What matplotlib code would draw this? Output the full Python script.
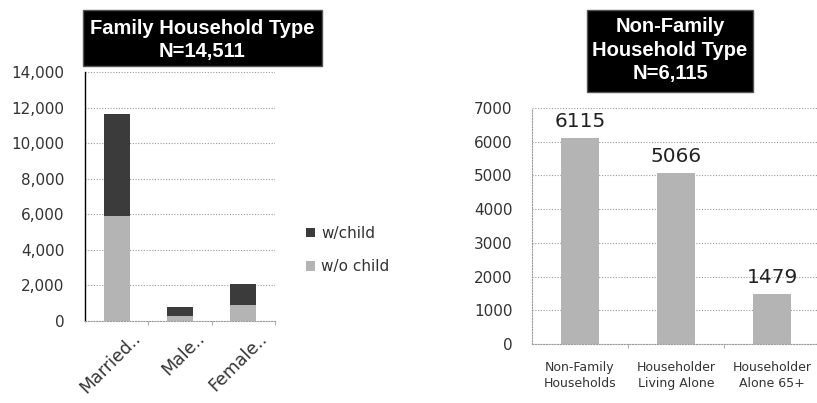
import matplotlib.pyplot as plt
from matplotlib.patches import Rectangle
from matplotlib.ticker import FuncFormatter
from matplotlib.transforms import ScaledTranslation

# --- data ---
family_types = ['Married..', 'Male..', 'Female..']
without_child = [5900, 290, 900]
with_child = [5750, 470, 1200]

nonfamily_types = ['Non-Family\nHouseholds', 'Householder\nLiving Alone', 'Householder\nAlone 65+']
nonfamily_counts = [6115, 5066, 1479]

DARK = '#3b3b3b'
LIGHT = '#b4b4b4'
GRID = '#9a9a9a'
TEXT = '#333333'

W, H = 817, 403


def px_axes(fig, x0, y0, x1, y1):
    """Axes from pixel box (top-left origin)."""
    return fig.add_axes([x0 / W, (H - y1) / H, (x1 - x0) / W, (y1 - y0) / H])


def title_box(fig, x0, y0, x1, y1, lines, ys, size):
    fig.patches.append(Rectangle((x0 / W, (H - y1) / H), (x1 - x0) / W, (y1 - y0) / H,
                                 transform=fig.transFigure, facecolor='black',
                                 edgecolor='#555555', lw=1))
    for line, y in zip(lines, ys):
        fig.text((x0 + x1) / 2 / W, (H - y) / H, line, color='white', ha='center',
                 va='center', fontsize=size, fontweight='bold', family='Liberation Sans')


def style_axes(ax, pad):
    ax.yaxis.grid(True, linestyle=(0, (1, 1.5)), color=GRID, lw=0.8)
    ax.set_axisbelow(True)
    for s in ['top', 'right']:
        ax.spines[s].set_visible(False)
    ax.spines['bottom'].set_linestyle((0, (1, 1.5)))
    ax.spines['bottom'].set_color(GRID)
    ax.tick_params(axis='y', length=0, labelsize=11, colors=TEXT, pad=pad)
    ax.tick_params(axis='x', which='major', length=0, colors=TEXT)
    # little category separator ticks
    ax.set_xticks([0.5, 1.5, 2.5], minor=True)
    ax.tick_params(axis='x', which='minor', length=3, color=GRID, direction='out')


fig = plt.figure(figsize=(W / 100, H / 100), dpi=100)

# ---- left: family households ----
ax1 = px_axes(fig, 85, 72, 275, 321)
x = range(len(family_types))
ax1.bar(x, without_child, width=0.41, color=LIGHT, label='w/o child')
ax1.bar(x, with_child, width=0.41, bottom=without_child, color=DARK, label='w/child')
ax1.set_xlim(-0.5, 2.5)
ax1.set_ylim(0, 14000)
ax1.set_yticks(range(0, 14001, 2000))
ax1.yaxis.set_major_formatter(FuncFormatter(lambda v, p: f'{int(v):,}'))
style_axes(ax1, 15)
ax1.spines['left'].set_color('black')
ax1.spines['left'].set_linewidth(1)
ax1.set_xticks(list(x))
ax1.set_xticklabels(family_types, rotation=45, ha='right', rotation_mode='anchor',
                    fontsize=12.5)
ax1.tick_params(axis='x', which='major', pad=6)
shift = ScaledTranslation(15 / 100, 0, fig.dpi_scale_trans)
for lbl in ax1.get_xticklabels():
    lbl.set_transform(lbl.get_transform() + shift)
handles, labels = ax1.get_legend_handles_labels()
leg = fig.legend(handles[::-1], labels[::-1], loc='center left',
                 bbox_to_anchor=(292 / W, (H - 250) / H), frameon=False, fontsize=11,
                 handlelength=0.6, handleheight=0.6, handletextpad=0.4, labelspacing=1.2)
for t in leg.get_texts():
    t.set_color(TEXT)

title_box(fig, 83, 10, 322, 66, ['Family Household Type', 'N=14,511'], [29, 52], 14.5)

# ---- right: non-family households ----
ax2 = px_axes(fig, 532, 108, 820, 344)
x2 = range(len(nonfamily_types))
bars = ax2.bar(x2, nonfamily_counts, width=0.39, color=LIGHT)
ax2.set_xlim(-0.5, 2.5)
ax2.set_ylim(0, 7000)
ax2.set_yticks(range(0, 7001, 1000))
style_axes(ax2, 14)
ax2.spines['left'].set_linestyle((0, (1, 1.5)))
ax2.spines['left'].set_color(GRID)
ax2.set_xticks(list(x2))
ax2.set_xticklabels(nonfamily_types, fontsize=9, linespacing=1.3)
ax2.tick_params(axis='x', which='major', pad=12)
ax2.bar_label(bars, labels=[str(v) for v in nonfamily_counts], padding=5,
              fontsize=14.5, color='#222222')

title_box(fig, 587, 10, 753, 92, ['Non-Family', 'Household Type', 'N=6,115'],
          [27, 50, 73], 14.5)

fig.savefig('out.png', dpi=100)
